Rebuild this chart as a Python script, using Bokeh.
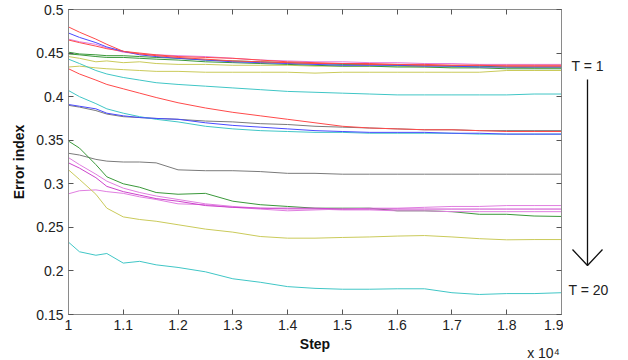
from bokeh.plotting import figure
from bokeh.layouts import row
from bokeh.models import Range1d, LinearAxis, FixedTicker
from bokeh.core.properties import value
from bokeh.embed import file_html
from bokeh.resources import INLINE

# Step (in units of 10^4)
steps = [1.00, 1.02, 1.05, 1.07, 1.10, 1.13, 1.16, 1.20, 1.25, 1.30, 1.35,
         1.40, 1.45, 1.50, 1.55, 1.60, 1.65, 1.70, 1.75, 1.80, 1.85, 1.90]

x_ticks = [1.0, 1.1, 1.2, 1.3, 1.4, 1.5, 1.6, 1.7, 1.8, 1.9]
x_tick_labels = ["1", "1.1", "1.2", "1.3", "1.4", "1.5", "1.6", "1.7", "1.8", "1.9"]
y_ticks = [0.15, 0.2, 0.25, 0.3, 0.35, 0.4, 0.45, 0.5]
y_tick_labels = ["0.15", "0.2", "0.25", "0.3", "0.35", "0.4", "0.45", "0.5"]
x_multiplier_label = "x 10\u2074"
t_labels = ["T = 1", "T = 20"]

# top cluster
red1 = [0.480, 0.474, 0.466, 0.460, 0.452, 0.449, 0.447, 0.445, 0.443, 0.441, 0.440,
        0.439, 0.438, 0.438, 0.437, 0.437, 0.436, 0.436, 0.436, 0.435, 0.435, 0.435]
blue1 = [0.473, 0.468, 0.462, 0.457, 0.452, 0.448, 0.446, 0.444, 0.442, 0.440, 0.439,
         0.438, 0.437, 0.436, 0.436, 0.436, 0.435, 0.435, 0.434, 0.434, 0.434, 0.434]
magenta1 = [0.466, 0.463, 0.460, 0.456, 0.451, 0.449, 0.448, 0.447, 0.446, 0.444, 0.442,
            0.441, 0.440, 0.440, 0.439, 0.439, 0.438, 0.438, 0.437, 0.437, 0.437, 0.437]
red3 = [0.465, 0.462, 0.458, 0.455, 0.452, 0.450, 0.448, 0.446, 0.445, 0.444, 0.442,
        0.440, 0.439, 0.438, 0.438, 0.437, 0.437, 0.436, 0.436, 0.436, 0.436, 0.436]
green1 = [0.451, 0.449, 0.448, 0.447, 0.447, 0.446, 0.445, 0.444, 0.442, 0.441, 0.440,
          0.439, 0.438, 0.437, 0.437, 0.436, 0.436, 0.435, 0.435, 0.434, 0.434, 0.434]
green2 = [0.449, 0.448, 0.446, 0.445, 0.445, 0.444, 0.443, 0.442, 0.440, 0.439, 0.438,
          0.437, 0.436, 0.435, 0.435, 0.434, 0.434, 0.433, 0.433, 0.432, 0.432, 0.432]
olive1 = [0.446, 0.444, 0.440, 0.441, 0.439, 0.440, 0.438, 0.437, 0.437, 0.436, 0.436,
          0.436, 0.435, 0.435, 0.435, 0.435, 0.434, 0.434, 0.434, 0.434, 0.433, 0.433]
olive2 = [0.434, 0.435, 0.433, 0.432, 0.431, 0.430, 0.429, 0.429, 0.428, 0.428, 0.428,
          0.428, 0.427, 0.428, 0.428, 0.428, 0.428, 0.428, 0.428, 0.430, 0.430, 0.430]
cyan1 = [0.443, 0.438, 0.430, 0.426, 0.422, 0.419, 0.416, 0.414, 0.412, 0.410, 0.408,
         0.406, 0.405, 0.404, 0.403, 0.402, 0.402, 0.402, 0.402, 0.402, 0.403, 0.403]
# middle cluster
red2 = [0.432, 0.426, 0.419, 0.414, 0.409, 0.404, 0.399, 0.393, 0.387, 0.382, 0.378,
        0.374, 0.370, 0.366, 0.364, 0.363, 0.362, 0.362, 0.361, 0.360, 0.360, 0.360]
cyan2 = [0.407, 0.400, 0.392, 0.386, 0.381, 0.377, 0.374, 0.371, 0.366, 0.363, 0.361,
         0.360, 0.359, 0.359, 0.358, 0.358, 0.358, 0.358, 0.357, 0.357, 0.357, 0.357]
blue2 = [0.391, 0.389, 0.386, 0.381, 0.378, 0.376, 0.375, 0.374, 0.370, 0.367, 0.365,
         0.363, 0.361, 0.360, 0.359, 0.359, 0.359, 0.358, 0.358, 0.357, 0.357, 0.357]
gray1 = [0.390, 0.388, 0.384, 0.380, 0.377, 0.376, 0.375, 0.374, 0.372, 0.371, 0.369,
         0.368, 0.366, 0.365, 0.364, 0.363, 0.362, 0.362, 0.361, 0.361, 0.361, 0.361]
# lower cluster
gray2 = [0.335, 0.333, 0.328, 0.326, 0.325, 0.325, 0.324, 0.316, 0.315, 0.315, 0.314,
         0.312, 0.312, 0.311, 0.311, 0.311, 0.311, 0.311, 0.311, 0.311, 0.311, 0.311]
green3 = [0.349, 0.341, 0.322, 0.308, 0.300, 0.296, 0.290, 0.288, 0.289, 0.280, 0.276,
          0.274, 0.272, 0.272, 0.272, 0.269, 0.269, 0.268, 0.265, 0.265, 0.263, 0.2625]
magenta2 = [0.324, 0.318, 0.307, 0.297, 0.291, 0.287, 0.283, 0.280, 0.275, 0.273, 0.272,
            0.272, 0.272, 0.271, 0.271, 0.271, 0.271, 0.271, 0.271, 0.271, 0.271, 0.271]
magenta3 = [0.2885, 0.292, 0.293, 0.291, 0.289, 0.285, 0.282, 0.277, 0.276, 0.273, 0.271,
            0.269, 0.270, 0.271, 0.272, 0.272, 0.273, 0.274, 0.274, 0.275, 0.275, 0.275]
pink4 = [0.330, 0.322, 0.311, 0.303, 0.295, 0.290, 0.286, 0.282, 0.277, 0.274, 0.272,
         0.271, 0.271, 0.270, 0.270, 0.269, 0.269, 0.268, 0.268, 0.268, 0.268, 0.268]
olive3 = [0.316, 0.305, 0.288, 0.272, 0.262, 0.259, 0.257, 0.253, 0.248, 0.2445, 0.2395,
          0.2376, 0.2376, 0.2384, 0.239, 0.240, 0.2406, 0.239, 0.237, 0.2357, 0.236, 0.236]
cyan3 = [0.233, 0.222, 0.218, 0.220, 0.209, 0.211, 0.207, 0.204, 0.199, 0.191, 0.187,
         0.182, 0.180, 0.179, 0.179, 0.1795, 0.1795, 0.175, 0.173, 0.174, 0.174, 0.175]

RED, BLUE, GREEN = "#ff4a4a", "#4a4aff", "#3a983a"
CYAN, MAGENTA, OLIVE, GRAY = "#40c6c6", "#cc44cc", "#caca5a", "#7a7a7a"
PINK = "#e07ee0"

lines = [
    (olive2, OLIVE), (olive1, OLIVE), (green2, GREEN), (green1, GREEN),
    (magenta1, PINK), (red3, RED), (blue1, BLUE), (red1, RED), (cyan1, CYAN),
    (gray1, GRAY), (red2, RED), (cyan2, CYAN), (blue2, BLUE),
    (gray2, GRAY), (green3, GREEN), (pink4, PINK), (magenta3, PINK), (magenta2, MAGENTA),
    (olive3, OLIVE), (cyan3, CYAN),
]

FONT = "Liberation Sans"
TXT = "#222222"
FRAME = "#8a8a8a"
TICK = "#555555"

yr = Range1d(0.15, 0.5)
p = figure(width=563, height=360, output_backend="svg", toolbar_location=None,
           x_range=Range1d(1.0, 1.9), y_range=yr,
           min_border_left=68, min_border_right=2, min_border_top=9, min_border_bottom=46)
p.grid.visible = False
p.outline_line_color = FRAME

for ys, c in lines:
    p.line(steps, ys, line_color=c, line_width=1)

p.xaxis.ticker = FixedTicker(ticks=x_ticks)
p.yaxis.ticker = FixedTicker(ticks=y_ticks)
p.xaxis.major_label_overrides = dict(zip(x_ticks, x_tick_labels))
p.yaxis.major_label_overrides = dict(zip(y_ticks, y_tick_labels))
p.yaxis.axis_label = "Error index"

for ax in [p.xaxis[0], p.yaxis[0]]:
    ax.axis_line_color = FRAME
    ax.major_tick_line_color = TICK
    ax.major_tick_in = 5
    ax.major_tick_out = 0
    ax.minor_tick_line_color = None
    ax.major_label_text_font = FONT
    ax.major_label_text_font_size = "14px"
    ax.major_label_text_color = TXT
    ax.axis_label_text_font = FONT
    ax.axis_label_text_font_size = "14px"
    ax.axis_label_text_font_style = "bold"
    ax.axis_label_text_color = "#111111"
p.xaxis.major_label_standoff = 5
p.yaxis.major_label_standoff = 5
p.yaxis.axis_label_standoff = 6

# second axis below: multiplier text and the "Step" label on the same row
mult_pos = 1.867
xaxis2 = LinearAxis(ticker=FixedTicker(ticks=[mult_pos]),
                    major_label_overrides={mult_pos: x_multiplier_label},
                    axis_label="Step")
xaxis2.axis_line_color = None
xaxis2.major_tick_line_color = None
xaxis2.minor_tick_line_color = None
xaxis2.major_label_text_font = FONT
xaxis2.major_label_text_font_size = "14px"
xaxis2.major_label_text_color = TXT
xaxis2.major_label_standoff = 6
xaxis2.axis_label_text_font = FONT
xaxis2.axis_label_text_font_size = "14px"
xaxis2.axis_label_text_font_style = "bold"
xaxis2.axis_label_text_color = "#111111"
xaxis2.axis_label_standoff = -28
p.add_layout(xaxis2, "below")

top = LinearAxis(ticker=FixedTicker(ticks=x_ticks),
                 major_label_overrides={t: "" for t in x_ticks})
right = LinearAxis(ticker=FixedTicker(ticks=y_ticks),
                   major_label_overrides={t: "" for t in y_ticks})
for ax in [top, right]:
    ax.axis_line_color = FRAME
    ax.major_tick_line_color = TICK
    ax.major_tick_in = 5
    ax.major_tick_out = 0
    ax.minor_tick_line_color = None
    ax.major_label_text_color = None
    ax.major_label_text_font_size = "1px"
    ax.major_label_standoff = 0
p.add_layout(top, "above")
p.add_layout(right, "right")

# side panel with the T annotation and arrow (pixel-like coordinates)
s = figure(width=65, height=360, output_backend="svg", toolbar_location=None,
           x_range=Range1d(563, 628), y_range=Range1d(314, 9),
           min_border_left=0, min_border_right=0, min_border_top=9, min_border_bottom=46,
           x_axis_location=None, y_axis_location=None)
s.grid.visible = False
s.outline_line_color = None
s.text(x=[571, 568], y=[65, 289], text=t_labels, text_font=value(FONT),
       text_font_size="14px", text_baseline="middle", text_align="left", text_color=TXT)
s.line(x=[587, 587], y=[79, 265], line_color="#111111", line_width=1.3)
s.line(x=[572, 587, 602], y=[249, 265, 249], line_color="#111111", line_width=1.3)

layout = row(p, s)
open("out.html", "w").write(file_html(layout, INLINE))
